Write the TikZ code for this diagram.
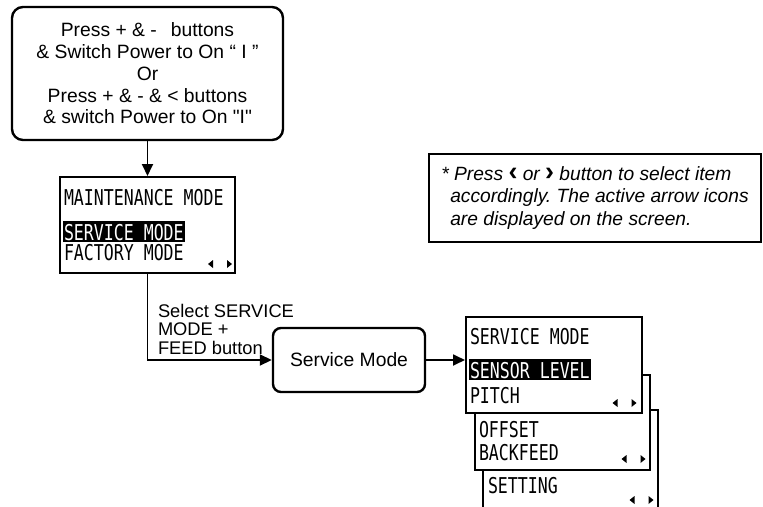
\documentclass[tikz,border=0pt]{standalone}
\usepackage{fontspec}
\newfontfamily\arial{Liberation Sans}
\newfontfamily\lcd{DejaVu Sans Mono}[FakeStretch=0.76]
\usetikzlibrary{arrows.meta, positioning}
\tikzset{
  every picture/.style={line width=2pt},
  flow/.style={draw, rounded corners=11pt, line width=2.4pt, align=center, inner sep=0pt,
    font=\arial\fontsize{19.3}{21.7}\selectfont},
  screen/.style={draw, fill=white, line width=2pt, inner sep=0pt},
  lcdline/.style={anchor=base west, inner sep=0pt, font=\lcd\fontsize{21.8}{22}\selectfont},
  lcdsel/.style={lcdline, fill=black, text=white, inner xsep=1pt, inner ysep=0.5pt,
    text height=19pt, text depth=1.5pt},
  conn/.style={-{Triangle[length=12pt, width=11pt]}, line width=1.8pt},
  cue/.style={anchor=north west, inner sep=0pt, align=left, font=\arial\fontsize{18.3}{18.5}\selectfont},
  note/.style={draw, line width=2pt, align=left, inner sep=0pt,
    font=\arial\itshape\fontsize{19.2}{22.5}\selectfont\frenchspacing},
  navarrows/.pic={
    \fill (-7,-4) -- (-7,4) -- (-12,0) -- cycle;
    \fill (7,-4) -- (7,4) -- (12,0) -- cycle;
  },
}
\newcommand{\chev}[1]{\scalebox{1.4}{\upshape\bfseries #1}}

\begin{document}
\begin{tikzpicture}[x=1pt, y=-1pt]
  \useasboundingbox (0,0) rectangle (763,506);
  % Top: how to enter maintenance mode
  \node[flow, minimum width=271, minimum height=133] (start) at (147.5,73.5)
    {Press + \& -\hspace{14pt}buttons\\ \& Switch Power to On “ I ”\\ Or\\
     Press + \& - \& < buttons\\ \& switch Power to On "I"};
  \node[screen, minimum width=175, minimum height=96] (maint) at (147.5,225) {};
  \node[lcdline] (m1) at (63,205) {MAINTENANCE MODE};
  \node[lcdsel] (m2) at (62,240) {SERVICE MODE};
  \node[lcdline] (m3) at (63,260) {FACTORY MODE};
  \pic at (220,264) {navarrows};
  \draw[conn] (start) -- (maint);

  % Middle: service mode
  \node[flow, minimum width=152, minimum height=64, rounded corners=8pt] (svc) at (349,360) {Service Mode};
  \draw[conn] (maint.south) |- (svc.west);
  \node[cue] (selcue) at (157,303) {Select SERVICE\\ MODE +\\ FEED button};

  % Right: stacked screens, back to front
  \begin{scope}
    \clip (0,0) rectangle (763,506);
    \node[screen, minimum width=175, minimum height=110] (scr3) at (570.5,465) {};
  \end{scope}
  \node[screen, minimum width=175, minimum height=95] (scr2) at (562.5,422.5) {};
  \node[screen, minimum width=176, minimum height=96] (scr1) at (554,365) {};
  \foreach \t/\xx/\yy [count=\i] in {SERVICE MODE/469/344, PITCH/469/403, OFFSET/478/437,
      BACKFEED/478/460, SETTING/487/493}
    \node[lcdline] (s\i) at (\xx,\yy) {\t};
  \node[lcdsel] (ssel) at (468,378) {SENSOR LEVEL};
  \foreach \xx/\yy in {624.5/403, 633.5/459, 641.5/500}
    \pic at (\xx,\yy) {navarrows};
  \draw[conn] (svc.east) -- (svc.east -| scr1.west);

  % Note
  \node[note, minimum width=332, minimum height=88] (hint) at (595,198)
    {* Press \chev{‹} or \chev{›} button to select item\\
     \hspace*{9pt}accordingly. The active arrow icons\\
     \hspace*{9pt}are displayed on the screen.};
\end{tikzpicture}
\end{document}
